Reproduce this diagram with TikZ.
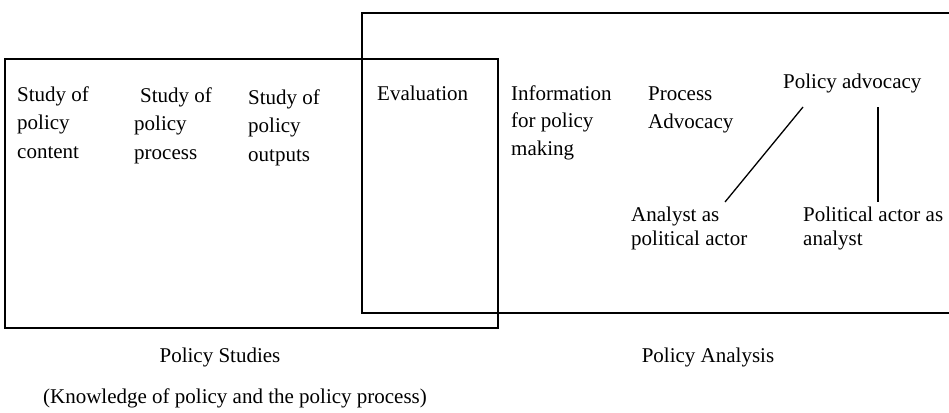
\documentclass[tikz,border=0pt]{standalone}
\usepackage{fontspec}
\setmainfont{Liberation Serif}
\usepackage{tikz}

\begin{document}
\begin{tikzpicture}[x=1pt,y=-1pt,
        lbl/.style={anchor=base west,inner sep=0pt,align=left,font=\fontsize{21}{28.5}\selectfont},
        mid/.style={anchor=base,inner sep=0pt,font=\fontsize{21}{28}\selectfont},
        boxline/.style={line width=1.5pt},
        link/.style={line width=1.3pt}]
        \useasboundingbox(0,0)rectangle(949,412);
        % the two overlapping fields
        \draw[boxline](5,59)rectangle(498,328);
        \draw[boxline](949,13)--(362,13)--(362,313)--(949,313);

        % multi-line labels are placed by the baseline of their last line
        \node[lbl](sc)at(17,158){Study of\\policy\\content};
        \node[lbl](sp)at(134,159){\hspace*{6pt}Study of\\policy\\process};
        \node[lbl](so)at(248,161){Study of\\policy\\outputs};
        \node[lbl](ev)at(377,100){Evaluation};
        \node[lbl,font=\fontsize{21}{27.5}\selectfont](info)at(511,155){Information\\for policy\\making};
        \node[lbl,font=\fontsize{21}{27.5}\selectfont](padv)at(648,128){Process\\Advocacy};
        \node[lbl](pol)at(783,88){Policy advocacy};
        \node[lbl,font=\fontsize{21}{24}\selectfont](ana)at(631,245){Analyst as\\political actor};
        \node[lbl,font=\fontsize{21}{24}\selectfont](pan)at(803,245){Political actor as\\analyst};

        \draw[link]([xshift=20pt,yshift=-19pt]pol.base west)--([xshift=94pt,yshift=43pt]ana.base west);
        \draw[link]([xshift=95pt,yshift=-19pt]pol.base west)--([xshift=75pt,yshift=43pt]pan.base west);

        \node[mid](ps)at(220,362){Policy Studies};
        \node[mid](pan2)at(708,362){Policy Analysis};
        \node[mid](know)at(235,403){(Knowledge of policy and the policy process)};
\end{tikzpicture}
\end{document}
